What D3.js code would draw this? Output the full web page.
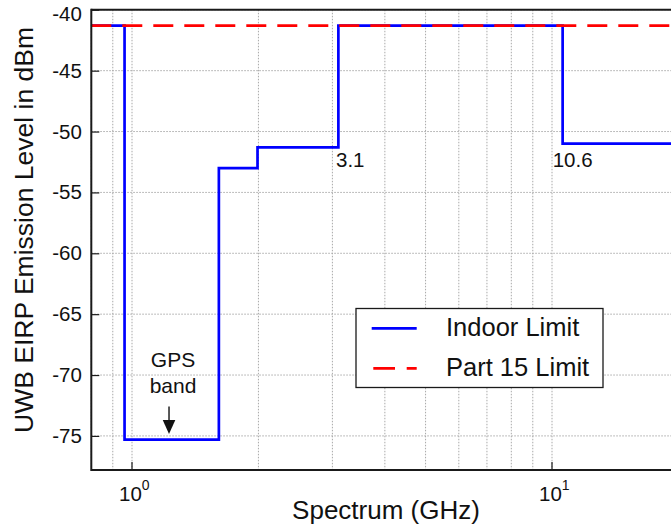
<!DOCTYPE html>
<html>
<head>
<meta charset="utf-8">
<script src="https://cdn.jsdelivr.net/npm/d3@7"></script>
<style>
  html, body { margin: 0; padding: 0; background: #fff; }
  svg { display: block; font-family: "Liberation Sans", Arial, sans-serif; }
</style>
</head>
<body>
<svg id="chart" width="671" height="529"></svg>
<script>
// Indoor UWB emission mask: band edges (GHz) and level (dBm) held until the next edge
const indoorFreq  = [0.8, 0.96, 1.61, 1.99, 3.1, 10.6, 25];
const indoorLevel = [-41.3, -75.3, -53.0, -51.3, -41.3, -51.0];
// Part 15 limit
const part15Freq  = [0.8, 25];
const part15Level = [-41.3, -41.3];
// Axis ticks
const yTicks = [-40, -45, -50, -55, -60, -65, -70, -75];
const xMajorTicks = [1, 10];
const xGridTicks = [0.8, 0.9, 1, 2, 3, 4, 5, 6, 7, 8, 9, 10, 20];
// Annotations (position in data units)
const edgeLabels = [{f: 3.06, level: -53.0, text: "3.1"}, {f: 10.04, level: -53.0, text: "10.6"}];
const gpsLabel = {f: 1.225, level: -75.3, lines: ["GPS", "band"]};
const legendItems = [
  {name: "Indoor Limit", color: "#0000ff", dash: null},
  {name: "Part 15 Limit", color: "#ff0000", dash: "21.7,11.7"}
];

const svg = d3.select("#chart");
const plotLeft = 91.3, plotTop = 9.8, plotBottom = 470;
const plotRight = 671 + 20;
const x = d3.scaleLog().domain([0.8, 25]).range([plotLeft, plotLeft + 420 * Math.log10(25 / 0.8)]);
const y = d3.scaleLinear().domain([-77.8, -40]).range([plotBottom, plotTop]);

const plot = svg.append("g");

// grid
const grid = plot.append("g").attr("stroke", "#a8a8a8").attr("stroke-width", 1).attr("stroke-dasharray", "1.5,1.5");
grid.selectAll("line.v").data(xGridTicks).join("line").attr("class", "v")
  .attr("x1", d => x(d)).attr("x2", d => x(d)).attr("y1", plotTop).attr("y2", plotBottom);
grid.selectAll("line.h").data(yTicks).join("line").attr("class", "h")
  .attr("x1", plotLeft).attr("x2", plotRight).attr("y1", d => y(d)).attr("y2", d => y(d));

// step series
const stepLine = d3.line().x(d => x(d[0])).y(d => y(d[1])).curve(d3.curveStepAfter);
const indoorPts = indoorFreq.map((f, i) => [f, indoorLevel[Math.min(i, indoorLevel.length - 1)]]);
plot.append("path").datum(indoorPts)
  .attr("d", stepLine).attr("fill", "none").attr("stroke", "#0000ff").attr("stroke-width", 2.7);
const part15Pts = part15Freq.map((f, i) => [f, part15Level[i]]);
plot.append("path").datum(part15Pts)
  .attr("d", d3.line().x(d => x(d[0])).y(d => y(d[1])))
  .attr("fill", "none").attr("stroke", "#ff0000").attr("stroke-width", 2.7).attr("stroke-dasharray", "20,11");

// axes frame
const frame = svg.append("g").attr("stroke", "#1a1a1a").attr("stroke-width", 2);
frame.append("line").attr("x1", plotLeft).attr("x2", plotRight).attr("y1", plotTop).attr("y2", plotTop);
frame.append("line").attr("x1", plotLeft).attr("x2", plotRight).attr("y1", plotBottom).attr("y2", plotBottom);
frame.append("line").attr("x1", plotLeft).attr("x2", plotLeft).attr("y1", plotTop - 1).attr("y2", plotBottom + 1);

// y axis ticks and labels (top label kept inside the canvas)
const yAxis = d3.axisLeft(y).tickValues(yTicks).tickSizeInner(-8).tickSizeOuter(0).tickPadding(9.5)
  .tickFormat(d => String(d));
const gy = svg.append("g").attr("transform", `translate(${plotLeft},0)`).call(yAxis);
gy.select(".domain").remove();
gy.selectAll(".tick line").attr("stroke", "#1a1a1a").attr("stroke-width", 1.2);
gy.selectAll(".tick text").attr("font-size", 20.5).attr("fill", "#111")
  .attr("font-family", "Liberation Sans, Arial, sans-serif")
  .attr("y", d => d === d3.max(yTicks) ? 4 : 0);

// x axis major ticks with superscript labels
const gx = svg.append("g");
gx.selectAll("line").data(xMajorTicks).join("line")
  .attr("x1", d => x(d)).attr("x2", d => x(d)).attr("y1", plotBottom).attr("y2", plotBottom - 8)
  .attr("stroke", "#1a1a1a").attr("stroke-width", 1.2);
const xt = gx.selectAll("text").data(xMajorTicks).join("text")
  .attr("x", d => x(d) - 13).attr("y", 501)
  .attr("font-size", 20.5).attr("fill", "#111");
xt.append("tspan").text("10");
xt.append("tspan").attr("dy", -11).attr("font-size", 14).text(d => Math.round(Math.log10(d)));

// axis titles
svg.append("text").attr("x", 386).attr("y", 519).attr("text-anchor", "middle")
  .attr("font-size", 26).attr("fill", "#111").text("Spectrum (GHz)");
svg.append("text").attr("transform", "translate(33,230) rotate(-90)").attr("text-anchor", "middle")
  .attr("font-size", 26.5).attr("fill", "#111").text("UWB EIRP Emission Level in dBm");

// band edge labels
svg.selectAll("text.edge").data(edgeLabels).join("text").attr("class", "edge")
  .attr("x", d => x(d.f)).attr("y", d => y(d.level) - 1)
  .attr("font-size", 20.5).attr("fill", "#111").text(d => d.text);

// GPS band note with arrow
const gpsX = x(gpsLabel.f);
svg.append("text").attr("y", 366.7).attr("text-anchor", "middle")
  .attr("font-size", 21).attr("fill", "#111")
  .selectAll("tspan").data(gpsLabel.lines).join("tspan")
  .attr("x", gpsX + 4).attr("dy", (d, i) => i === 0 ? 0 : 26.6).text(d => d);
svg.append("line").attr("x1", gpsX).attr("x2", gpsX).attr("y1", 406.5).attr("y2", 422)
  .attr("stroke", "#111").attr("stroke-width", 1.4);
svg.append("path")
  .attr("d", `M${gpsX - 6.3},${420} L${gpsX + 6.3},${420} L${gpsX},${y(gpsLabel.level) - 5.5} Z`)
  .attr("fill", "#111");

// legend
const lg = svg.append("g").attr("transform", "translate(356,308.5)");
lg.append("rect").attr("width", 247).attr("height", 79).attr("fill", "#fff")
  .attr("stroke", "#1a1a1a").attr("stroke-width", 1.3);
const li = lg.selectAll("g").data(legendItems).join("g")
  .attr("transform", (d, i) => `translate(0,${19.8 + i * 40})`);
li.append("line").attr("x1", d => d.dash ? 17.3 : 15.7).attr("x2", 60.7).attr("y1", 0).attr("y2", 0)
  .attr("stroke", d => d.color).attr("stroke-width", 2.7)
  .attr("stroke-dasharray", d => d.dash);
li.append("text").attr("x", 90).attr("y", 8).attr("font-size", 25.5).attr("fill", "#111").text(d => d.name);
</script>
</body>
</html>
